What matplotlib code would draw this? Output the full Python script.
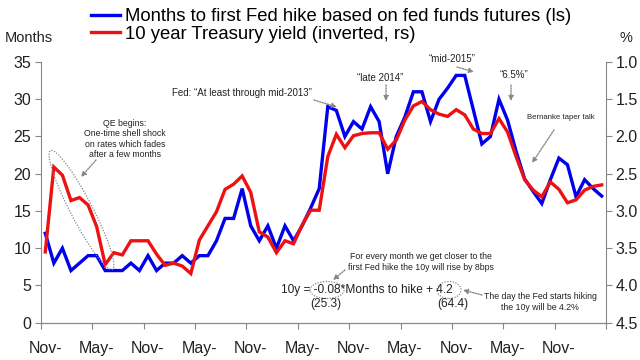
import matplotlib
matplotlib.use('Agg')
import matplotlib.pyplot as plt
from matplotlib.patches import Ellipse
import numpy as np

plt.rcParams['font.family'] = ['Liberation Sans', 'DejaVu Sans']

# monthly data, Nov-08 .. Apr-14
months_to_hike = [12, 8, 10, 7, 8, 9, 9, 7, 7, 7, 8, 7, 9, 7, 8, 8, 9, 8, 9, 9,
                  11, 14, 14, 18, 13, 11, 13, 10, 13, 11, 13, 15.4, 18, 29, 28.5, 25,
                  27, 26, 29, 27, 20, 25, 27.6, 31, 31, 27, 30, 31.5, 33.2, 33.2, 28.6,
                  24, 25, 30, 27.2, 23, 19.3, 17.6, 16, 19.2, 22.1, 21.2, 16.9, 19.2, 18, 17]
yield_10y = [3.55, 2.41, 2.52, 2.86, 2.82, 2.92, 3.21, 3.72, 3.56, 3.59, 3.40, 3.40,
             3.40, 3.58, 3.73, 3.70, 3.74, 3.84, 3.39, 3.20, 3.01, 2.71, 2.64, 2.53,
             2.75, 3.28, 3.35, 3.56, 3.40, 3.44, 3.19, 2.99, 2.99, 2.27, 1.97, 2.15,
             1.99, 1.96, 1.95, 1.95, 2.17, 2.05, 1.78, 1.59, 1.53, 1.64, 1.70, 1.73,
             1.64, 1.71, 1.90, 1.96, 1.96, 1.76, 1.94, 2.27, 2.58, 2.72, 2.81, 2.61,
             2.71, 2.89, 2.85, 2.72, 2.67, 2.65]
# the year line of each label is cut off in the original picture
tick_labels = ['Nov-', 'May-', 'Nov-', 'May-', 'Nov-', 'May-',
               'Nov-', 'May-', 'Nov-', 'May-', 'Nov-']

BLUE = '#0000ee'
RED = '#ee1111'
GREY = '#888888'
TXT = '#222222'

W, H = 640, 360
fig = plt.figure(figsize=(6.4, 3.6), dpi=100)

def fx(x):
    return x / W

def fy(y):
    return 1 - y / H

ax = fig.add_axes([fx(41), fy(322.7), fx(606) - fx(41), fy(62) - fy(322.7)])
ax2 = ax.twinx()

x = np.arange(len(months_to_hike))
l1, = ax.plot(x, months_to_hike, color=BLUE, lw=2.4, solid_joinstyle='miter')
l2, = ax2.plot(x, yield_10y, color=RED, lw=2.4, solid_joinstyle='miter')

ax.set_xlim(-0.5, len(x) - 0.5)
ax.set_ylim(0, 35)
ax.set_yticks(range(0, 36, 5))
ax2.set_ylim(4.5, 1.0)
ax2.set_yticks(np.arange(1.0, 4.51, 0.5))
ax2.set_yticklabels(['%.1f' % v for v in np.arange(1.0, 4.51, 0.5)])

# tick marks on month boundaries, labels at month centres
ax.set_xticks(np.arange(-0.5, len(x), 6))
ax.set_xticklabels([])
ax.set_xticks(np.arange(0, len(x), 6), minor=True)
ax.set_xticklabels(tick_labels, minor=True)
ax.tick_params(axis='x', which='minor', length=0, pad=13)
ax.tick_params(axis='x', which='major', length=4, width=0.8, color=GREY)

for a in (ax, ax2):
    a.spines['top'].set_visible(False)
    for s in ('left', 'right', 'bottom'):
        a.spines[s].set_color(GREY)
        a.spines[s].set_linewidth(0.8)
    a.tick_params(axis='y', length=4, width=0.8, color=GREY, labelsize=11.5,
                  labelcolor=TXT, pad=3)
ax.tick_params(axis='x', which='minor', labelsize=11.5, labelcolor=TXT)
ax2.spines['left'].set_visible(False)
ax.spines['right'].set_visible(False)

fig.text(fx(5), fy(38), 'Months', fontsize=10.5, color=TXT, va='center')
fig.text(fx(619), fy(38), '%', fontsize=10.5, color=TXT, va='center')

fig.legend([l1, l2], ['Months to first Fed hike based on fed funds futures (ls)',
                      '10 year Treasury yield (inverted, rs)'],
           loc='upper left', bbox_to_anchor=(fx(91), fy(8)), frameon=False,
           fontsize=13.3, handlelength=1.55, handletextpad=0.3, labelspacing=0.05,
           borderpad=0, borderaxespad=0)

# --- annotations ---
small = dict(fontsize=6.3, color=TXT)
arrow = dict(arrowstyle='-|>', color=GREY, lw=1.0, ls=(0, (1, 1)), mutation_scale=7,
             shrinkA=0, shrinkB=0)

def note(text, xy, xytext, **kw):
    ax.annotate(text, xy=(fx(xy[0]), fy(xy[1])), xycoords='figure fraction',
                xytext=(fx(xytext[0]), fy(xytext[1])), textcoords='figure fraction',
                arrowprops=arrow, ha='center', va='center', **kw)

def oval(cx, cy, w, h, angle=0):
    e = Ellipse((cx / 100, (H - cy) / 100), w / 100, h / 100, angle=angle,
                transform=fig.dpi_scale_trans, fill=False, ec=GREY, lw=0.9,
                ls=(0, (1, 1.2)))
    fig.add_artist(e)

fig.text(fx(125), fy(139), 'QE begins:\nOne-time shell shock\non rates which fades\nafter a few months',
         ha='center', va='center', linespacing=1.15, **small)
note('', (81, 177), (96, 160))
oval(81.5, 210, 134, 22, angle=-62.5)

fig.text(fx(172), fy(93), 'Fed: \u201cAt least through mid-2013\u201d', ha='left', va='center',
         fontsize=7, color=TXT)
note('', (337, 107), (314, 100))

fig.text(fx(380), fy(78), '\u201clate 2014\u201d', ha='center', va='center', fontsize=7, color=TXT)
note('', (386, 101), (386, 85))

fig.text(fx(452), fy(59), '\u201cmid-2015\u201d', ha='center', va='center', fontsize=7, color=TXT)
note('', (474, 72), (457, 67))

fig.text(fx(514), fy(75), '\u201c6.5%\u201d', ha='center', va='center', fontsize=7, color=TXT)
note('', (511, 101), (511, 85))

fig.text(fx(561), fy(118), 'Bernanke taper talk', ha='center', va='center', fontsize=5.6,
         color=TXT)
note('', (532, 163), (554, 130))

# regression
fig.text(fx(281), fy(290), '10y = -0.08*Months to hike + 4.2', ha='left', va='center',
         fontsize=8.6, color=TXT)
fig.text(fx(326), fy(304), '(25.3)', ha='center', va='center', fontsize=8.6, color=TXT)
fig.text(fx(453), fy(304), '(64.4)', ha='center', va='center', fontsize=8.6, color=TXT)
oval(327, 290, 34, 17)
oval(449, 290, 24, 17)
fig.text(fx(421), fy(262), 'For every month we get closer to the\nfirst Fed hike the 10y will rise by 8bps',
         ha='center', va='center', linespacing=1.2, **small)
note('', (333, 280), (345, 270))
fig.text(fx(540), fy(302), 'The day the Fed starts hiking\nthe 10y will be 4.2%',
         ha='center', va='center', linespacing=1.2, **small)
note('', (463, 290), (482, 295))

fig.savefig('out.png', dpi=100)
